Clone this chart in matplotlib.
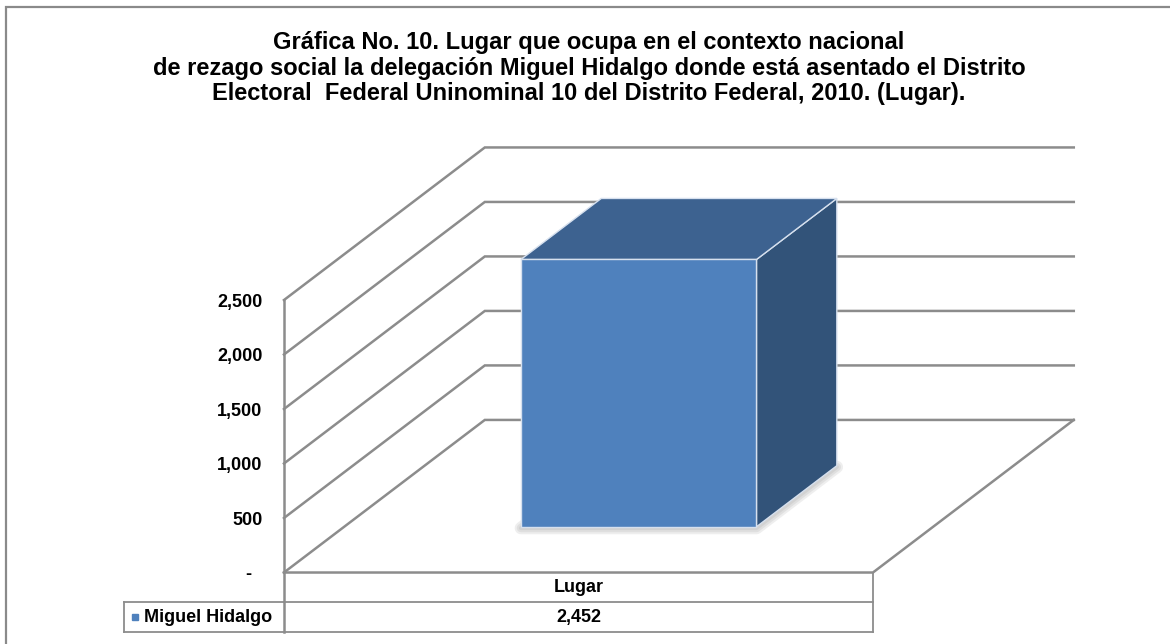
import matplotlib
matplotlib.use('Agg')
from matplotlib import pyplot as plt
from matplotlib.patches import Polygon, Rectangle

# data
categories = ['Lugar']
series_name = 'Miguel Hidalgo'
values = [2452]
y_ticks = [0, 500, 1000, 1500, 2000, 2500]
tick_labels = ['-  ', '500', '1,000', '1,500', '2,000', '2,500']
value_labels = ['2,452']

title = ('Gráfica No. 10. Lugar que ocupa en el contexto nacional\n'
         'de rezago social la delegación Miguel Hidalgo donde está asentado el Distrito\n'
         'Electoral  Federal Uninominal 10 del Distrito Federal, 2010. (Lugar).')

plt.rcParams['font.family'] = ['Liberation Sans', 'DejaVu Sans']

fig = plt.figure(figsize=(11.7, 6.44), dpi=100)
ax = fig.add_axes([0.2427, 0.1110, 0.5034, 0.4231])
ax.set_xlim(0, len(categories))
ax.set_ylim(0, y_ticks[-1])
for s in ax.spines.values():
    s.set_visible(False)
ax.set_xticks([])
ax.set_yticks(y_ticks)
ax.set_yticklabels(tick_labels, fontweight='bold', fontsize=13)
ax.tick_params(axis='y', length=0, pad=15.5)

# oblique depth offset, in data units
DX, DY = 0.341, 1400


def proj(x, y, z):
    return (x + z * DX, y + z * DY)


gray = '#8c8c8c'
grid_kw = dict(color=gray, lw=1.8, clip_on=False, zorder=1,
               solid_joinstyle='miter')

# side wall + back wall gridlines
n = len(categories)
for t in y_ticks:
    pts = [proj(0, t, 0), proj(0, t, 1), proj(n, t, 1)]
    ax.plot([p[0] for p in pts], [p[1] for p in pts], **grid_kw)

# floor front and right edge
pts = [proj(0, 0, 0), proj(n, 0, 0), proj(n, 0, 1)]
ax.plot([p[0] for p in pts], [p[1] for p in pts], **grid_kw)

# bars
w = 0.4
z0, z1 = 0.3, 0.7
for i, v in enumerate(values):
    x0 = i + 0.5 - w / 2
    x1 = i + 0.5 + w / 2
    foot = [proj(x0, -12, z0), proj(x1, -12, z0), proj(x1, -12, z1), proj(x0, -12, z1)]
    for lw in [9, 6, 3]:
        ax.add_patch(Polygon(foot, closed=True, fc='none', ec='#7a7a7a', lw=lw,
                             alpha=0.12, joinstyle='round', clip_on=False, zorder=2))
    front = [proj(x0, 0, z0), proj(x1, 0, z0), proj(x1, v, z0), proj(x0, v, z0)]
    top = [proj(x0, v, z0), proj(x1, v, z0), proj(x1, v, z1), proj(x0, v, z1)]
    side = [proj(x1, 0, z0), proj(x1, 0, z1), proj(x1, v, z1), proj(x1, v, z0)]
    for poly, col in [(side, '#325379'), (top, '#3d6290'), (front, '#4f81bd')]:
        ax.add_patch(Polygon(poly, closed=True, fc=col, ec='#d6e0ee', lw=1.0,
                             clip_on=False, zorder=3))

# data table under the chart
r1, r2 = -0.1083, -0.2183
left = -0.2716
tb = dict(color=gray, lw=1.3, clip_on=False, transform=ax.transAxes, zorder=1)
ax.plot([0, 1], [r1, r1], **tb)
ax.plot([left, 0], [r1, r1], **tb)
ax.plot([left, 1], [r2, r2], **tb)
ax.plot([left, left], [r1, r2], **tb)
ax.plot([1, 1], [0, r2], **tb)
ax.plot([0, 0], [1, r2], color=gray, lw=1.8, clip_on=False,
        transform=ax.transAxes, zorder=1)

for i, c in enumerate(categories):
    xc = (i + 0.5) / n
    ax.text(xc, r1 / 2, c, transform=ax.transAxes, ha='center', va='center',
            fontsize=13, fontweight='bold')
    ax.text(xc, (r1 + r2) / 2, value_labels[i], transform=ax.transAxes,
            ha='center', va='center', fontsize=13, fontweight='bold')

ax.plot([-0.253], [(r1 + r2) / 2], 's', color='#4f81bd', ms=4.5,
        transform=ax.transAxes, clip_on=False)
ax.text(-0.237, (r1 + r2) / 2, series_name, transform=ax.transAxes,
        ha='left', va='center', fontsize=13, fontweight='bold')

fig.text(589 / 1170, 1 - 68 / 644, title, ha='center', va='center',
         fontsize=17, fontweight='bold', linespacing=1.16)

# outer chart frame (cut off at right and bottom)
fig.add_artist(Rectangle((6 / 1170, -0.1), 1.2, 1.1 - 6.5 / 644, fill=False,
                         ec='#8a8a8a', lw=1.6, transform=fig.transFigure))

fig.savefig('out.png', dpi=100, facecolor='white')
